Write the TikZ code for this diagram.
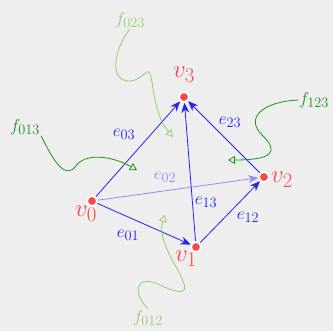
\documentclass[tikz,border=0pt]{standalone}
\usepackage{amsmath,amssymb}
\usetikzlibrary{positioning,calc,arrows.meta}
\definecolor{vred}{RGB}{255,70,70}
\definecolor{eblue}{RGB}{35,35,240}
\definecolor{elight}{RGB}{140,140,250}
\definecolor{fgreen}{RGB}{25,150,25}
\definecolor{flight}{RGB}{150,205,110}
\definecolor{bgray}{RGB}{238,238,238}

\begin{document}
\begin{tikzpicture}[
    x=1pt, y=-1pt,
    vert/.style={circle, fill=vred, draw=white, line width=1.8pt, minimum size=10pt, inner sep=0pt},
    vlab/.style={text=vred, font=\fontsize{28}{32}\selectfont},
    elab/.style={text=eblue, font=\fontsize{19}{22}\selectfont},
    flab/.style={font=\fontsize{19}{22}\selectfont, inner sep=1pt},
    edge/.style={-{Stealth[length=10pt,width=8pt]}, eblue, line width=0.8pt},
    face/.style={-{Triangle[open,length=7pt,width=8pt]}, line width=0.8pt}
]
    % background
    \fill[bgray] (0,0) rectangle (333,331);
    \useasboundingbox (0,0) rectangle (333,331);

    % Vertices
    \node[vert] (v0) at (92,201) {};
    \node[vert] (v1) at (196,247) {};
    \node[vert] (v2) at (264,177) {};
    \node[vert] (v3) at (184,97) {};
    \node[vlab] (lv0) at (86,214) {$v_0$};
    \node[vlab] (lv1) at (186,259) {$v_1$};
    \node[vlab] (lv2) at (282,180) {$v_2$};
    \node[vlab] (lv3) at (184,75) {$v_3$};

    % Edges
    \draw[edge, elight] (v0) -- (v2);
    \draw[edge] (v0) -- (v1);
    \draw[edge] (v0) -- (v3);
    \draw[edge] (v1) -- (v3);
    \draw[edge] (v1) -- (v2);
    \draw[edge] (v2) -- (v3);
    \node[elab] (le01) at (128,235) {$e_{01}$};
    \node[elab] (le03) at (124,134) {$e_{03}$};
    \node[elab, text=elight] (le02) at (165,177) {$e_{02}$};
    \node[elab] (le13) at (206,202) {$e_{13}$};
    \node[elab] (le12) at (248,217) {$e_{12}$};
    \node[elab] (le23) at (230,122) {$e_{23}$};

    % Face markers
    \node[flab, text=fgreen] (f013) at (25,127) {$f_{013}$};
    \node[flab, text=flight] (f023) at (130,20) {$f_{023}$};
    \node[flab, text=fgreen] (f123) at (314,100) {$f_{123}$};
    \node[flab, text=flight] (f012) at (148,318) {$f_{012}$};
    \coordinate (c013) at (137,170);
    \coordinate (c023) at (173,137);
    \coordinate (c123) at (228,160);
    \coordinate (c012) at (165,215);

    \draw[face, fgreen] (f013.south east) .. controls (55,165) and (66,178) .. (75,167)
        .. controls (85,152) and (112,156) .. (c013);
    \draw[face, flight] (f023.south) .. controls (112,52) and (110,82) .. (130,81)
        .. controls (146,80) and (148,60) .. (152,82)
        .. controls (155,105) and (160,122) .. (c023);
    \draw[face, fgreen] (f123.west) .. controls (262,102) and (245,118) .. (262,135)
        .. controls (280,152) and (272,160) .. (c123);
    \draw[face, flight] (f012.north) .. controls (130,290) and (138,274) .. (160,285)
        .. controls (192,300) and (188,288) .. (175,265)
        .. controls (162,242) and (160,230) .. (c012);
\end{tikzpicture}
\end{document}
